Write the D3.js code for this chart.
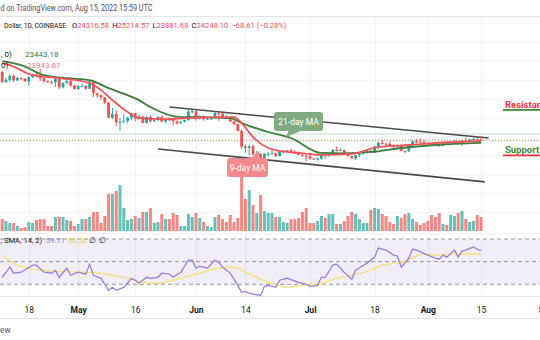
<!DOCTYPE html>
<html><head><meta charset="utf-8">
<script src="https://cdn.jsdelivr.net/npm/d3@7"></script>
<style>html,body{margin:0;padding:0;background:#fff;overflow:hidden}svg{display:block}text{font-family:Roboto,"Liberation Sans",sans-serif}</style>
</head><body><svg id="c" width="540" height="340"></svg>
<script>
// ---- data (BTC/USD daily, Coinbase, 2022-04-11 .. 2022-08-15) ----
const startDate = "2022-04-11";
const open = [42150,39530,40080,41150,39940,40550,40400,39700,40800,41500,41370,40480,39710,39470,39450,40430,38120,39240,39740,38600,
37640,38470,38520,37730,39690,36550,36010,35470,34060,30100,31020,28940,29050,29280,30080,31310,29860,30420,28700,30300,29180,29430,30280,29080,29640,29520,29190,28620,29000,29450,31720,
31800,29800,30470,29700,29860,29900,31370,31130,30200,30100,29090,28420,26580,22470,22130,22580,20400,20470,19000,20570,20570,20720,19970,21100,21230,21500,21030,20730,20280,20110,
19930,19300,19240,19300,20230,20190,20550,21620,21590,21590,20860,19960,19330,20220,20580,20830,21200,20790,22430,23400,23240,23150,22680,22460,22580,21310,21240,22950,23850,23780,23640,
23290,23270,22980,22820,22620,23310,22950,23180,23810,23160,23950,23940,24400,24450,24316.58];
const high = [42420,40700,41550,41500,40880,40700,40600,41140,41760,42200,42980,40800,39980,39940,40600,40800,39450,40360,39930,38800,
38680,39150,38640,39970,39840,36650,36130,35500,34240,32660,32160,30000,30990,30300,31470,31320,30780,30660,30520,30730,29600,30450,30650,29830,30200,29840,29380,29220,29540,32200,32380,
31980,30680,30680,29950,30150,31760,31560,31330,30700,30350,29440,28570,26890,23010,22780,22980,21350,20760,20800,21000,21720,20870,21230,21520,21600,21870,21520,21200,20410,20160,
20880,19430,19650,20330,20710,20670,21820,22530,21950,21600,20870,20050,20250,20880,21200,21570,21670,22700,23780,24280,23440,23750,22990,22990,22640,21350,23100,24200,24440,24670,24200,
23490,23460,23650,23220,23460,23350,23380,24240,23920,24220,24920,24450,24890,25040,25214.57];
const low = [39200,39250,39570,39560,39770,40000,39550,38550,40570,40850,39770,39200,39300,38930,38200,37700,37880,38880,38180,37580,
37400,38050,37500,37690,35600,35270,34750,33710,30030,29730,27800,26700,28700,28640,29500,29100,29450,28660,28560,28750,28950,29230,28880,28650,29290,28000,28230,28460,28840,29320,31200,
29320,29600,29300,29500,29500,29880,29250,29850,29960,28870,28120,26560,21900,20830,20080,20230,20250,17600,17970,19640,20340,19780,19890,20730,20900,20970,20510,20200,19850,18630,
18960,18970,18750,19050,19300,19770,20250,21180,21300,20650,19880,19250,18900,19640,20380,20500,20770,20770,21700,23030,22360,22500,21970,22280,21250,20710,21040,22600,23410,23500,23220,
22850,22660,22690,22440,22590,22920,22860,23150,22880,22670,23880,23600,24300,24170,23881.68];
const close = [39530,40080,41150,39940,40550,40400,39700,40800,41500,41370,40480,39710,39470,39450,40430,38120,39240,39740,38600,37640,
38470,38520,37730,39690,36550,36010,35470,34060,30100,31020,28940,29050,29280,30080,31310,29860,30420,28700,30300,29180,29430,30280,29080,29640,29520,29190,28620,29000,29450,31720,31800,
29800,30470,29700,29860,29900,31370,31130,30200,30100,29090,28420,26580,22470,22130,22580,20400,20470,19000,20570,20570,20720,19970,21100,21230,21500,21030,20730,20280,20110,19930,
19300,19240,19300,20230,20190,20550,21620,21590,21590,20860,19960,19330,20220,20580,20830,21200,20790,22430,23400,23240,23150,22680,22460,22580,21310,21240,22950,23850,23780,23640,23290,
23270,22980,22820,22620,23310,22950,23180,23810,23160,23950,23940,24400,24450,24320,24248.10];
// volume, thousand BTC
const volume = [18,15,12,12,7.5,4.5,6,13.5,12,16.5,18,18,7.5,7.5,21,21,21,16.5,15,7.5,10.5,18,18,21,28.5,28.5,12,22.5,55.5,55.5,60,69,34.5,16.5,18,22.5,19.5,28.5,28.5,34.5,12,13.5,25.5,18,18,27,24,7.5,7.5,25.5,21,27,19.5,13.5,7.5,6,21,24,18,13.5,24,13.5,19.5,81,48,61.5,39,27,54,30,27,
27,21,21,13.5,12,18,18,19.5,28.5,34.5,12,12,15,22.5,19.5,25.5,25.5,10.5,10.5,15,22.5,28.5,25.5,18,12,12,31.5,34.5,33,25.5,22.5,13.5,10.5,22.5,19.5,25.5,27,18,13.5,9,12,15,24,21,27,10.5,9,24,22.5,27,30,18,13.5,15,24,21];

const ma21Dates = ["2022-04-11","2022-04-16","2022-04-22","2022-04-28","2022-05-04","2022-05-09","2022-05-14","2022-05-17","2022-05-20","2022-05-28","2022-05-31","2022-06-10","2022-06-13","2022-06-20","2022-06-26","2022-07-04","2022-07-10","2022-07-17","2022-07-25","2022-08-03","2022-08-15"];
const ma21 = [45000,43950,41320,40530,40000,37900,36050,34740,32900,30260,30260,30000,28680,26320,24740,20790,20700,21050,22100,22890,23443.18];
const ma9Dates = ["2022-04-11","2022-04-13","2022-04-19","2022-04-26","2022-05-04","2022-05-07","2022-05-10","2022-05-14","2022-05-17","2022-05-24","2022-05-30","2022-06-11","2022-06-13","2022-06-16","2022-06-20","2022-06-23","2022-06-28","2022-07-04","2022-07-12","2022-07-19","2022-07-27","2022-08-03","2022-08-15"];
const ma9 = [44480,43950,41320,40530,39210,37370,34740,31580,30000,29740,30000,30260,28680,25000,22100,21320,20790,20260,20530,22370,22890,23420,23943.87];

const rsiDates = ["2022-04-11","2022-04-13","2022-04-14","2022-04-16","2022-04-19","2022-04-20","2022-04-22","2022-04-24","2022-04-25","2022-04-26","2022-04-28","2022-04-29","2022-05-01","2022-05-03","2022-05-04","2022-05-05","2022-05-07","2022-05-09","2022-05-10","2022-05-11","2022-05-13","2022-05-15","2022-05-16","2022-05-17","2022-05-19","2022-05-20","2022-05-22","2022-05-23","2022-05-25","2022-05-26","2022-05-28","2022-05-30","2022-05-31","2022-06-01","2022-06-02","2022-06-04","2022-06-06","2022-06-07","2022-06-08","2022-06-10","2022-06-12","2022-06-13","2022-06-14","2022-06-15","2022-06-18","2022-06-19","2022-06-20","2022-06-22","2022-06-23","2022-06-25","2022-06-28","2022-06-30","2022-07-01","2022-07-03","2022-07-04","2022-07-05","2022-07-07","2022-07-08","2022-07-10","2022-07-12","2022-07-13","2022-07-16","2022-07-18","2022-07-19","2022-07-21","2022-07-23","2022-07-24","2022-07-25","2022-07-27","2022-07-28","2022-07-29","2022-08-01","2022-08-03","2022-08-04","2022-08-05","2022-08-06","2022-08-08","2022-08-09","2022-08-10","2022-08-11","2022-08-13","2022-08-14","2022-08-15"];
const rsi = [36.2,45.1,39.8,40.7,46.9,46.9,40.7,39.8,42.4,36.2,44.2,38.0,40.7,38.9,47.8,38.0,35.3,24.7,27.3,24.7,27.3,35.3,33.6,30.9,36.2,35.3,36.2,39.8,38.9,36.2,40.7,51.3,51.3,44.2,46.0,44.2,51.3,49.6,45.1,39.8,29.1,22.9,23.8,22.0,20.2,28.2,29.1,27.3,33.6,35.3,31.8,30.0,28.2,29.1,36.2,36.2,46.9,47.8,40.7,34.4,42.4,48.7,54.0,62.0,60.2,55.8,54.9,45.1,53.1,61.1,60.2,55.8,53.1,52.2,55.8,54.0,60.2,54.0,59.3,60.2,62.9,61.1,59.71];
const rsiSmaDates = ["2022-04-11","2022-04-14","2022-04-18","2022-04-24","2022-05-02","2022-05-07","2022-05-14","2022-05-18","2022-05-22","2022-05-26","2022-06-02","2022-06-07","2022-06-11","2022-06-14","2022-06-20","2022-06-25","2022-06-29","2022-07-04","2022-07-08","2022-07-12","2022-07-17","2022-07-20","2022-07-25","2022-07-31","2022-08-03","2022-08-09","2022-08-15"];
const rsiSma = [55.8,48.7,44.2,41.6,40.7,39.8,35.3,31.8,30.9,33.6,39.8,44.2,45.1,40.7,31.8,27.3,29.1,30.9,35.3,38.0,42.4,46.9,49.6,56.7,55.8,56.7,56.52];

const upperTrend = [["2022-05-25",32900],["2022-08-17",24740]];
const lowerTrend = [["2022-05-22",21840],["2022-08-16",13160]];
const zoneLevels = [25790,23950];
const lastPrice = 24248.10;
const priceGrid = [55000,50000,45000,40000,35000,30000,25000,20000,15000,10000,5000];
const tickDates = ["2022-04-18","2022-05-01","2022-05-16","2022-06-01","2022-06-14","2022-07-01","2022-07-18","2022-08-01","2022-08-15","2022-09-01"];
const tickLabels = ["18","May","16","Jun","14","Jul","18","Aug","15","Sep"];
const rsiLevels = [70,50,30];

// ---- scales ----
const parse = d3.utcParse("%Y-%m-%d");
const t0 = parse(startDate);
const dates = open.map((_, i) => d3.utcDay.offset(t0, i));
const x = d3.scaleUtc().domain([t0, dates[dates.length - 1]]).range([2.2, 481]);
const y = d3.scaleLinear().domain([25000, 55000]).range([137, 23.3]);
const yv = d3.scaleLinear().domain([0, 90]).range([231, 171]);
const yr = d3.scaleLinear().domain([30, 70]).range([284.3, 239]);

const svg = d3.select("#c");
const UP = "#26a69a", DN = "#ef5350";

// grid
const grid = svg.append("g");
grid.selectAll(".hg").data(priceGrid).join("line")
  .attr("x1", 0).attr("x2", 540).attr("y1", d => y(d)).attr("y2", d => y(d))
  .attr("stroke", "#f0f3fa").attr("stroke-width", 1);
grid.selectAll(".vg").data(tickDates.map(parse)).join("line")
  .attr("x1", d => Math.round(x(d)) + 0.5).attr("x2", d => Math.round(x(d)) + 0.5)
  .attr("y1", 16).attr("y2", 296).attr("stroke", "#f0f3fa");

// RSI band
svg.append("rect").attr("x", 0).attr("width", 540).attr("y", yr(70)).attr("height", yr(30) - yr(70))
  .attr("fill", "#7e57c2").attr("fill-opacity", 0.1);
svg.selectAll(".rl").data(rsiLevels).join("line")
  .attr("x1", 0).attr("x2", 540).attr("y1", d => yr(d)).attr("y2", d => yr(d))
  .attr("stroke", "#9598a1").attr("stroke-dasharray", "4,3").attr("stroke-width", 1);

// pane separators
[[16.5, "#e0e3eb"], [233.5, "#eef0f5"], [296.5, "#e0e3eb"], [318.5, "#e0e3eb"]].forEach(([yy, c]) =>
  svg.append("line").attr("x1", 0).attr("x2", 540).attr("y1", yy).attr("y2", yy).attr("stroke", c));

// volume
svg.append("g").selectAll("rect").data(volume).join("rect")
  .attr("x", (d, i) => x(dates[i]) - 1.5).attr("width", 3)
  .attr("y", d => yv(d)).attr("height", d => yv(0) - yv(d))
  .attr("fill", (d, i) => close[i] >= open[i] ? UP : DN).attr("fill-opacity", 0.7);

// zone + last price lines
svg.selectAll(".zl").data(zoneLevels).join("line")
  .attr("x1", 0).attr("x2", 540).attr("y1", d => y(d)).attr("y2", d => y(d))
  .attr("stroke", "#9ccc9c").attr("stroke-opacity", 0.6).attr("stroke-width", 1);
svg.append("line").attr("x1", 0).attr("x2", 540).attr("y1", y(lastPrice)).attr("y2", y(lastPrice))
  .attr("stroke", "#ef5350").attr("stroke-opacity", 0.7).attr("stroke-dasharray", "1,2");

// trend lines
[upperTrend, lowerTrend].forEach(t => {
  svg.append("line")
    .attr("x1", x(parse(t[0][0]))).attr("y1", y(t[0][1]))
    .attr("x2", x(parse(t[1][0]))).attr("y2", y(t[1][1]))
    .attr("stroke", "#4a4a4a").attr("stroke-width", 1.6);
});

// candles
const cg = svg.append("g");
cg.selectAll("line").data(open).join("line")
  .attr("x1", (d, i) => x(dates[i])).attr("x2", (d, i) => x(dates[i]))
  .attr("y1", (d, i) => y(high[i])).attr("y2", (d, i) => y(low[i]))
  .attr("stroke", (d, i) => close[i] >= open[i] ? UP : DN).attr("stroke-width", 1);
cg.selectAll("rect").data(open).join("rect")
  .attr("x", (d, i) => x(dates[i]) - 1.4).attr("width", 2.8)
  .attr("y", (d, i) => y(Math.max(open[i], close[i])))
  .attr("height", (d, i) => Math.max(1, Math.abs(y(open[i]) - y(close[i]))))
  .attr("fill", (d, i) => close[i] >= open[i] ? UP : DN);

// moving averages
const lineP = d3.line().x(d => x(d[0])).y(d => y(d[1])).curve(d3.curveMonotoneX);
svg.append("path").attr("d", lineP(ma21Dates.map((d, i) => [parse(d), ma21[i]])))
  .attr("fill", "none").attr("stroke", "#3d7d3d").attr("stroke-width", 1.8);
svg.append("path").attr("d", lineP(ma9Dates.map((d, i) => [parse(d), ma9[i]])))
  .attr("fill", "none").attr("stroke", "#f2545b").attr("stroke-width", 1.8);

// RSI lines
svg.append("path").attr("d", d3.line().x(d => x(d[0])).y(d => yr(d[1])).curve(d3.curveMonotoneX)(rsiSmaDates.map((d, i) => [parse(d), rsiSma[i]])))
  .attr("fill", "none").attr("stroke", "#f5e27a").attr("stroke-width", 1.3);
svg.append("path").attr("d", d3.line().x(d => x(d[0])).y(d => yr(d[1]))(rsiDates.map((d, i) => [parse(d), rsi[i]])))
  .attr("fill", "none").attr("stroke", "#9c7fd6").attr("stroke-width", 1.3);

// callouts
function callout(bx, by, bw, bh, tri, fill, label) {
  const g = svg.append("g");
  g.append("path").attr("d", "M" + tri.map(p => p.join(",")).join("L") + "Z").attr("fill", fill);
  g.append("rect").attr("x", bx).attr("y", by).attr("width", bw).attr("height", bh).attr("rx", 3).attr("fill", fill);
  g.append("text").attr("x", bx + bw / 2).attr("y", by + bh / 2 + 3).attr("text-anchor", "middle")
    .attr("font-size", 8.5).attr("fill", "#fff").text(label);
}
callout(274, 112, 49, 19, [[289, 130], [303, 130], [286, 137]], "#80aa80", "21-day MA");
callout(227, 158, 41, 19, [[249, 159], [258, 159], [260, 151]], "#f58a8e", "9-day MA");

// Resistance / Support
svg.append("text").attr("x", 505).attr("y", 107.5).attr("font-size", 9.5).attr("font-weight", "bold")
  .attr("fill", "#f23645").text("Resistance");
svg.append("rect").attr("x", 503).attr("y", 109).attr("width", 37).attr("height", 1.8).attr("fill", "#3d8b3d");
svg.append("text").attr("x", 505).attr("y", 152.5).attr("font-size", 9.5).attr("font-weight", "bold")
  .attr("fill", "#3d8b3d").text("Support");
svg.append("rect").attr("x", 503).attr("y", 154.5).attr("width", 37).attr("height", 1.8).attr("fill", "#f23645");

// time axis
const ax = svg.append("g").attr("transform", "translate(0,296)")
  .call(d3.axisBottom(x).tickValues(tickDates.map(parse)).tickFormat((d, i) => tickLabels[i]).tickSize(0).tickPadding(11));
ax.select(".domain").remove();
ax.selectAll("text").attr("font-size", 8.5).attr("fill", "#131722")
  .attr("font-family", "Roboto,sans-serif")
  .attr("font-weight", (d, i) => /[A-Za-z]/.test(tickLabels[i]) ? "bold" : "normal");

// header + legends (the reference is cropped at its left edge; only the visible parts are drawn)
svg.append("text").attr("x", 0.5).attr("y", 11).attr("font-size", 8.2)
  .attr("textLength", 152).attr("lengthAdjust", "spacingAndGlyphs")
  .attr("fill", "#50535e").text("d on TradingView.com, Aug 15, 2022 15:59 UTC");
svg.append("text").attr("x", 4).attr("y", 27.5).attr("font-size", 7.6)
  .attr("textLength", 62).attr("lengthAdjust", "spacingAndGlyphs")
  .attr("fill", "#131722").text("Dollar, 1D, COINBASE");
const lg2 = svg.append("text").attr("x", 72).attr("y", 27.5).attr("font-size", 7.6);
[["O", "24316.58"], ["H", "25214.57"], ["L", "23881.68"], ["C", "24248.10"]].forEach(([k, v], i) => {
  lg2.append("tspan").attr("fill", "#131722").attr("dx", i ? 3 : 0).text(k);
  lg2.append("tspan").attr("fill", "#f7525f").text(v);
});
lg2.append("tspan").attr("fill", "#f7525f").attr("dx", 3).text("\u221268.61 (\u22120.28%)");

svg.append("text").attr("x", 1).attr("y", 57).attr("font-size", 8).attr("fill", "#131722").text(", 0)");
svg.append("text").attr("x", 25).attr("y", 57).attr("font-size", 8).attr("fill", "#3d7d3d").text(ma21[ma21.length - 1].toFixed(2));
svg.append("text").attr("x", 1).attr("y", 68).attr("font-size", 8).attr("fill", "#131722").text("0)");
svg.append("text").attr("x", 27).attr("y", 68).attr("font-size", 8).attr("fill", "#f2545b").attr("fill-opacity", 0.8).text(ma9[ma9.length - 1].toFixed(2));

svg.append("text").attr("x", 0.5).attr("y", 243).attr("font-size", 7.6).attr("fill", "#131722").text(", SMA, 14, 2)");
svg.append("text").attr("x", 46).attr("y", 243).attr("font-size", 7.6).attr("fill", "#9c7fd6").text(rsi[rsi.length - 1].toFixed(2));
svg.append("text").attr("x", 68).attr("y", 243).attr("font-size", 7.6).attr("fill", "#e8d060").text(rsiSma[rsiSma.length - 1].toFixed(2));
svg.append("text").attr("x", 89).attr("y", 243).attr("font-size", 7.6).attr("fill", "#131722").text("\u2205");
svg.append("text").attr("x", 99).attr("y", 243).attr("font-size", 7.6).attr("fill", "#131722").text("\u2205");

svg.append("text").attr("x", 0).attr("y", 333).attr("font-size", 8.3).attr("fill", "#50535e").text("ew");
</script></body></html>
